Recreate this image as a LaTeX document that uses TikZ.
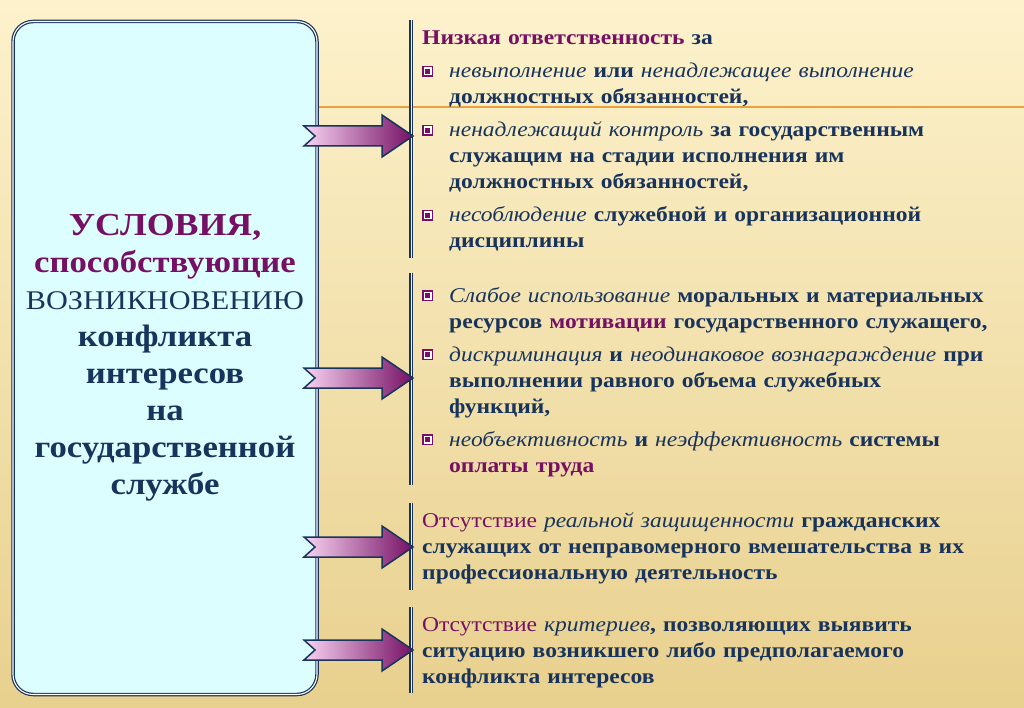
\documentclass[tikz,border=0pt]{standalone}
\usepackage{fontspec}
\setmainfont{Liberation Serif}[FakeStretch=1.12]
\usetikzlibrary{positioning}

\definecolor{navy}{RGB}{24,52,92}
\definecolor{plum}{RGB}{118,16,100}
\definecolor{boxfill}{RGB}{221,254,254}
\definecolor{rulecol}{RGB}{236,162,60}
\definecolor{pinklt}{RGB}{248,212,242}
\definecolor{bgtop}{RGB}{253,242,204}
\definecolor{bgbot}{RGB}{232,208,142}

\newcommand{\bul}{\raisebox{1pt}{\textcolor{plum}{\rule{11pt}{11pt}}\hspace{-9.5pt}\textcolor{white}{\rule[1.5pt]{8pt}{8pt}}\hspace{-6.5pt}\textcolor{plum}{\rule[3pt]{5pt}{5pt}}}}
\newcommand{\itm}{\par\noindent\hangindent=27pt\hangafter=1\makebox[27pt][l]{\bul}\ignorespaces}
\newcommand{\emr}[1]{{\mdseries\itshape #1}}
\newcommand{\nl}{\newline}

\begin{document}
\begin{tikzpicture}[x=1pt, y=-1pt,
  condbox/.style={draw=navy, line width=1.2pt, double=white, double distance=1.1pt,
    fill=boxfill, rounded corners=20pt, minimum width=304pt, minimum height=673pt,
    inner sep=0pt, align=center, text=navy, font=\bfseries\fontsize{31}{37}\selectfont},
  grptext/.style={anchor=north west, inner sep=0pt, text width=600pt, align=left,
    text=navy, font=\bfseries\fontsize{21}{26}\selectfont,
    execute at begin node=\setlength{\parskip}{7pt}},
  bar/.style={draw=navy, line width=1.3pt, double=bgtop, double distance=1pt},
  blkarrow/.style={draw=navy, line width=1.5pt, line join=miter,
    left color=pinklt, right color=plum}]

\useasboundingbox (0,0) rectangle (1024,708);
\shade[top color=bgtop, bottom color=bgbot] (0,0) rectangle (1024,708);

% orange rule behind everything
\coordinate (ruleR) at (1024,107);
\coordinate (ruleL) at (317,107);
\draw[rulecol, line width=1.8pt] (ruleL) -- (ruleR);

% the big box on the left
\node (cond) [condbox] at (165,358) {%
  {\fontsize{32}{37}\selectfont\color{plum}УСЛОВИЯ,}\\
  {\color{plum}способствующие}\\
  {\mdseries\fontsize{27}{37}\selectfont ВОЗНИКНОВЕНИЮ}\\
  конфликта\\
  интересов\\
  на\\
  государственной\\
  службе};

% vertical bars
\coordinate (barAt) at (411,20);  \coordinate (barAb) at (411,258);
\coordinate (barBt) at (411,273); \coordinate (barBb) at (411,485);
\coordinate (barCt) at (411,503); \coordinate (barCb) at (411,590);
\coordinate (barDt) at (411,607); \coordinate (barDb) at (411,693);
\draw[bar] (barAt) -- (barAb);
\draw[bar] (barBt) -- (barBb);
\draw[bar] (barCt) -- (barCb);
\draw[bar] (barDt) -- (barDb);

% arrows from box to bars
\coordinate (tipA) at (413,136);
\coordinate (tipB) at (413,378);
\coordinate (tipC) at (413,547);
\coordinate (tipD) at (413,650);
\foreach \t in {tipA,tipB,tipC,tipD}
  \shade[blkarrow, shift={(\t)}] (0,0) -- (-31,-21) -- (-31,-10) -- (-109,-10)
    -- (-98,0) -- (-109,10) -- (-31,10) -- (-31,21) -- cycle;

% text groups
\node (grpA) [grptext] at (422,31) {%
  {\color{plum}Низкая ответственность} за
  \itm \emr{невыполнение} или \emr{ненадлежащее выполнение}\nl должностных обязанностей,
  \itm \emr{ненадлежащий контроль} за государственным\nl служащим на стадии исполнения им\nl должностных обязанностей,
  \itm \emr{несоблюдение} служебной и организационной\nl дисциплины\par};

\node (grpB) [grptext] at (422,269) {%
  \itm \emr{Слабое использование} моральных и материальных\nl ресурсов {\color{plum}мотивации} государственного служащего,
  \itm \emr{дискриминация} и \emr{неодинаковое вознаграждение} при\nl выполнении равного объема служебных\nl функций,
  \itm \emr{необъективность} и \emr{неэффективность} системы\nl {\color{plum}оплаты труда}\par};

\node (grpC) [grptext] at (422,512) {%
  {\mdseries\color{plum}Отсутствие} \emr{реальной защищенности} гражданских\nl служащих от неправомерного вмешательства в их\nl профессиональную деятельность};

\node (grpD) [grptext] at (422,617) {%
  {\mdseries\color{plum}Отсутствие} \emr{критериев}, позволяющих выявить\nl ситуацию возникшего либо предполагаемого\nl конфликта интересов};

\end{tikzpicture}
\end{document}
